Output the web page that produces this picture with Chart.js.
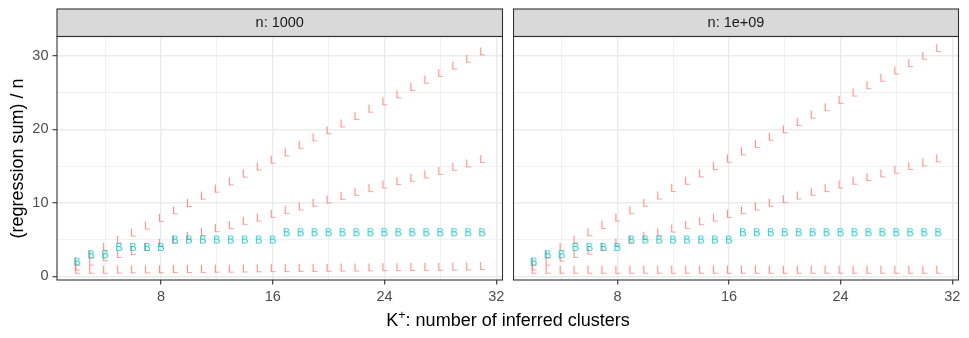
<!DOCTYPE html>
<html>
<head>
<meta charset="utf-8">
<script src="https://cdn.jsdelivr.net/npm/chart.js@4/dist/chart.umd.min.js"></script>
<style>
  body { margin: 0; background: #fff; width: 969px; height: 338px; position: relative; overflow: hidden;
         font-family: "Liberation Sans", Arial, sans-serif; }
  .panel { position: absolute; top: 0; height: 338px; }
  #xtitle { position: absolute; left: 57px; width: 902px; top: 310.5px; text-align: center;
            font-size: 18px; line-height: 18px; color: #000; white-space: nowrap; }
  #xtitle sup { font-size: 12.5px; position: relative; top: -7px; vertical-align: baseline; line-height: 0; }
</style>
</head>
<body>
<div class="panel" style="left:0;width:508px"><canvas id="c1"></canvas></div>
<div class="panel" style="left:513px;width:456px"><canvas id="c2"></canvas></div>
<div id="xtitle">K<sup>+</sup>: number of inferred clusters</div>
<script>
// facets
var facetLabels = ['n: 1000', 'n: 1e+09'];

// K+ values (x)
var K = [2,3,4,5,6,7,8,9,10,11,12,13,14,15,16,17,18,19,20,21,22,23,24,25,26,27,28,29,30,31];

// "B" series (same in both facets)
var bVals = [2,3,3,4,4,4,4,5,5,5,5,5,5,5,5,6,6,6,6,6,6,6,6,6,6,6,6,6,6,6];

// "L" series, n = 1000
var lTop1000 = [2,3,4,5,5.95,6.9,7.95,8.98,9.98,10.98,11.93,12.93,13.97,14.93,15.88,16.87,17.9,18.9,19.87,20.8,21.8,22.8,23.8,24.76,25.76,26.76,27.67,28.67,29.6,30.6];
var lMid1000 = [1.35,2.0,2.6,3.05,3.45,4.0,4.55,5.0,5.5,6.05,6.55,7.0,7.55,8.0,8.5,9.05,9.5,10.0,10.45,10.95,11.5,12.0,12.5,12.95,13.4,13.85,14.35,14.9,15.35,15.95];
var lBot1000 = [0.9,0.9,0.9,0.92,0.95,0.95,0.97,1.0,1.0,1.02,1.05,1.05,1.07,1.1,1.12,1.12,1.15,1.15,1.17,1.2,1.2,1.22,1.25,1.25,1.27,1.3,1.3,1.32,1.35,1.4];

// "L" series, n = 1e+09
var lTop1e9 = [2,3,4,5,6,7,8,9,10,11,12,13,14,15,16,17,18,19,20,21,22,23,24,25,26,27,28,29,30,31.05];
var lMid1e9 = [1.35,2.0,2.55,3.05,3.5,4.0,4.6,5.0,5.5,6.0,6.5,7.0,7.5,8.0,8.5,9.0,9.5,10.0,10.5,11.0,11.5,12.0,12.5,13.0,13.5,14.0,14.5,15.0,15.5,16.05];
var lBot1e9 = [0.9,0.9,0.9,0.9,0.9,0.9,0.9,0.9,0.9,0.9,0.9,0.9,0.9,0.9,0.9,0.9,0.9,0.9,0.9,0.9,0.9,0.9,0.9,0.9,0.9,0.9,0.9,0.9,0.9,0.9];

// axis ticks
var xTicks = [8,16,24,32];
var xMinor = [4,12,20,28];
var yTicks = [0,10,20,30];
var yMinor = [5,15,25];

var FONT = '"Liberation Sans", Arial, sans-serif';
Chart.defaults.font.family = FONT;

function glyph(ch, color) {
    var c = document.createElement('canvas');
    c.width = 14; c.height = 14;
    var g = c.getContext('2d');
    g.font = '11px ' + FONT;
    g.fillStyle = color;
    g.textAlign = 'center';
    g.textBaseline = 'alphabetic';
    g.fillText(ch, 7, 7 + 3.95);
    return c;
}
var glyphL = glyph('L', 'rgba(248,118,109,0.88)');
var glyphB = glyph('B', 'rgba(0,191,196,0.88)');

function pts(arr) {
    return K.map(function (k, i) { return {x: k, y: arr[i]}; });
}

function textSeries(arr, g) {
    return {data: pts(arr), pointStyle: g, pointRadius: 0.5, pointHoverRadius: 0.5,
            pointHitRadius: 0, pointBorderWidth: 0, borderWidth: 0};
}

var facetFrame = {
    id: 'facetFrame',
    beforeDraw: function (chart, args, opts) {
        var a = chart.chartArea, ctx = chart.ctx;
        ctx.save();
        ctx.fillStyle = '#D9D9D9';
        ctx.fillRect(a.left, 9, a.right - a.left, 27);
        ctx.strokeStyle = '#333333';
        ctx.lineWidth = 1.1;
        ctx.strokeRect(a.left, 9, a.right - a.left, 27.5);
        ctx.fillStyle = '#1A1A1A';
        ctx.font = '14.5px ' + FONT;
        ctx.textAlign = 'center';
        ctx.textBaseline = 'middle';
        ctx.fillText(opts.label, (a.left + a.right) / 2, 23);
        ctx.restore();
    },
    afterDatasetsDraw: function (chart) {
        var a = chart.chartArea, ctx = chart.ctx;
        ctx.save();
        ctx.strokeStyle = '#333333';
        ctx.lineWidth = 1.1;
        ctx.strokeRect(a.left, a.top - 0.5, a.right - a.left, a.bottom - a.top + 0.5);
        ctx.restore();
    }
};

function makeChart(id, idx, top, mid, bot) {
    var first = idx === 0;
    var xAll = xMinor.concat(xTicks).sort(function (a, b) { return a - b; });
    var yAll = yMinor.concat(yTicks).sort(function (a, b) { return a - b; });
    return new Chart(document.getElementById(id), {
        type: 'scatter',
        data: {
            datasets: [
                textSeries(bVals, glyphB),
                textSeries(top, glyphL),
                textSeries(mid, glyphL),
                textSeries(bot, glyphL)
            ]
        },
        options: {
            responsive: true,
            maintainAspectRatio: false,
            animation: false,
            layout: {padding: {top: 37, right: first ? 5.5 : 10.5, bottom: 0, left: 0}},
            plugins: {
                legend: {display: false},
                tooltip: {enabled: false},
                facetFrame: {label: facetLabels[idx]}
            },
            scales: {
                x: {
                    type: 'linear', min: 0.55, max: 32.45,
                    afterBuildTicks: function (s) { s.ticks = xAll.map(function (v) { return {value: v}; }); },
                    afterFit: function (s) { s.height = 58; },
                    border: {display: false},
                    ticks: {
                        autoSkip: false, maxRotation: 0, padding: 3.5, color: '#4D4D4D',
                        font: {size: 14.5},
                        callback: function (v) { return xTicks.indexOf(v) >= 0 ? String(v) : ''; }
                    },
                    grid: {
                        color: '#EBEBEB',
                        lineWidth: function (c) { return c.tick && xTicks.indexOf(c.tick.value) >= 0 ? 1.4 : 0.7; },
                        tickLength: 4.5,
                        tickWidth: 1.1,
                        tickColor: function (c) { return c.tick && xTicks.indexOf(c.tick.value) >= 0 ? '#333333' : 'rgba(0,0,0,0)'; }
                    }
                },
                y: {
                    type: 'linear', min: -0.5, max: 32.55,
                    afterBuildTicks: function (s) { s.ticks = yAll.map(function (v) { return {value: v}; }); },
                    afterFit: function (s) { s.width = first ? 57 : 0; },
                    border: {display: false},
                    title: {
                        display: first, text: '(regression sum) / n', color: '#000',
                        font: {size: 18}, padding: {top: 7, bottom: 0}
                    },
                    ticks: {
                        display: first, padding: 4, color: '#4D4D4D', font: {size: 14.5},
                        callback: function (v) { return yTicks.indexOf(v) >= 0 ? String(v) : ''; }
                    },
                    grid: {
                        color: '#EBEBEB',
                        drawTicks: first,
                        lineWidth: function (c) { return c.tick && yTicks.indexOf(c.tick.value) >= 0 ? 1.4 : 0.7; },
                        tickLength: 4.5,
                        tickWidth: 1.1,
                        tickColor: function (c) { return c.tick && yTicks.indexOf(c.tick.value) >= 0 ? '#333333' : 'rgba(0,0,0,0)'; }
                    }
                }
            }
        },
        plugins: [facetFrame]
    });
}

makeChart('c1', 0, lTop1000, lMid1000, lBot1000);
makeChart('c2', 1, lTop1e9, lMid1e9, lBot1e9);
</script>
</body>
</html>
